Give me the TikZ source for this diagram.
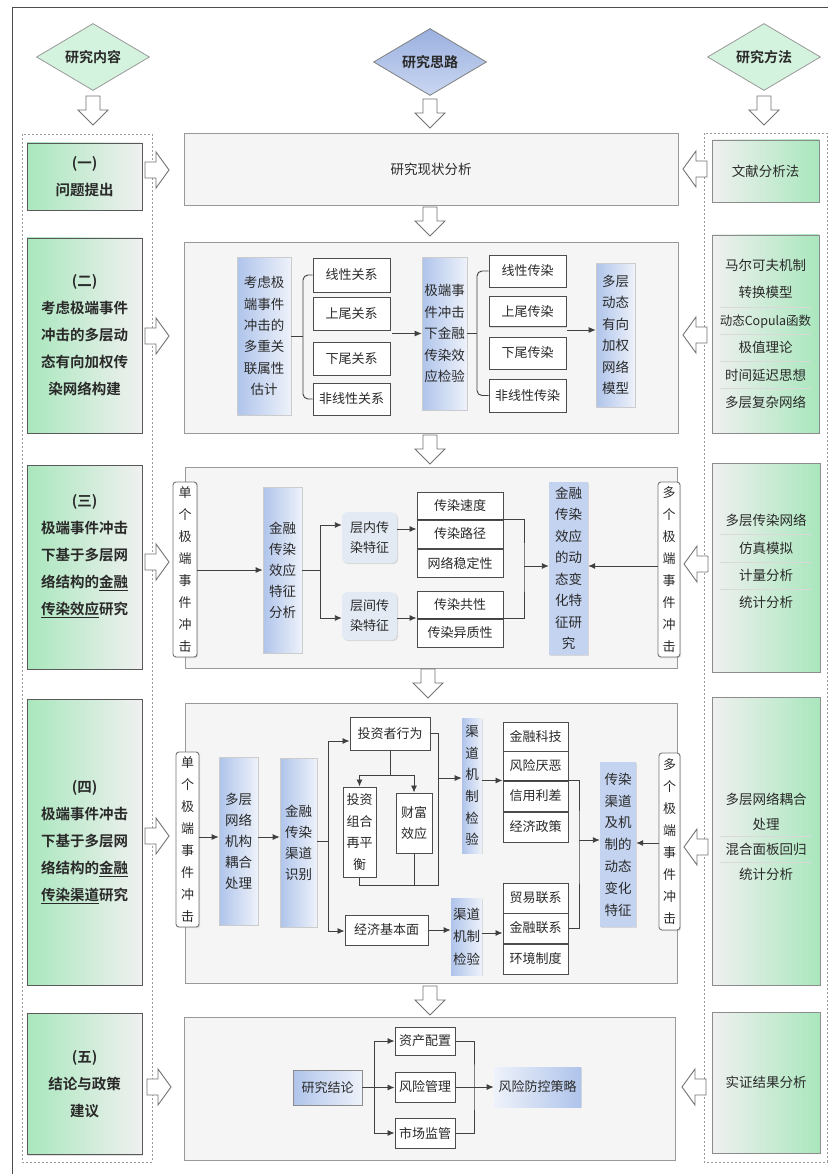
\documentclass[tikz,border=0pt]{standalone}
\usepackage{fontspec}
\setmainfont{Noto Sans CJK SC}[BoldFont={Noto Sans CJK SC Bold}]
\usetikzlibrary{shapes.geometric,shadows,arrows.meta}
\definecolor{grn}{HTML}{A9E7BD}
\definecolor{lgr}{HTML}{F0F0F0}
\definecolor{blu}{HTML}{AFC4EB}
\definecolor{blul}{HTML}{EEF2FA}
\definecolor{nbl}{HTML}{E3EAF3}
\definecolor{txt}{HTML}{2A2A2A}
\definecolor{dtop}{HTML}{9AB0DF}
\definecolor{dbot}{HTML}{CAD7F1}
\tikzset{
  shd/.style={drop shadow={shadow xshift=1.2pt,shadow yshift=-1.2pt,opacity=0.25}},
  colL/.style={draw=black!65, line width=0.9pt, left color=grn, right color=lgr, shd, inner sep=0, align=center, text=txt, font=\bfseries\fontsize{14.5}{27}\selectfont},
  ltxt/.style={inner sep=0, align=center, text=txt, font=\bfseries\fontsize{14.5}{27}\selectfont},
  colR/.style={draw=black!45, line width=0.9pt, left color=lgr, right color=grn, shd, inner sep=0, align=center, text=txt, font=\fontsize{13.5}{27.4}\selectfont},
  rtxt/.style={inner sep=0, align=center, text=txt, font=\fontsize{13.5}{27.4}\selectfont},
  mainbox/.style={draw=black!40, line width=0.8pt, fill=black!4, shd, inner sep=0},
  obox/.style={draw=black!70, line width=1pt, fill=white, inner sep=0, text=txt, font=\fontsize{13}{16}\selectfont, shd},
  bbox/.style={draw=black!20, line width=0.6pt, left color=blu, right color=blul, inner sep=0, align=center, text=txt, font=\fontsize{13.5}{21.5}\selectfont, shd},
  fbox/.style={draw=none, fill=blu!75!white, inner sep=0, align=center, text=txt, font=\fontsize{13.5}{21.8}\selectfont, shd},
  vbox/.style={draw=black!55, line width=0.9pt, rounded corners=3, fill=white, inner sep=0, align=center, text=txt, font=\fontsize{13}{21.9}\selectfont, shd},
  nbox/.style={draw=none, rounded corners=5, fill=nbl, inner sep=0, align=center, text=txt, font=\fontsize{13}{20}\selectfont, shd},
  conn/.style={draw=black!75, line width=0.9pt},
  arr/.style={conn, -{Latex[length=7pt,width=6pt]}},
  harrow/.style={draw=black!55, fill=white, line width=0.9pt},
  sepl/.style={draw=black!15, line width=0.6pt},
  colframe/.style={draw=black!40, line width=0.9pt, dash pattern=on 2pt off 2pt},
  dia/.style={diamond, aspect=1.7, line width=0.8pt, minimum width=113, minimum height=67, inner sep=0, text=txt, font=\bfseries\fontsize{14}{16}\selectfont},
  hdn/.pic={\path[harrow] (-7,0) -- (7,0) -- (7,14) -- (15,14) -- (0,29) -- (-15,14) -- (-7,14) -- cycle;},
  hrt/.pic={\path[harrow] (0,-8) -- (11,-8) -- (11,-18) -- (24,0) -- (11,18) -- (11,8) -- (0,8) -- cycle;},
  hlt/.pic={\path[harrow] (0,-8) -- (-11,-8) -- (-11,-18) -- (-24,0) -- (-11,18) -- (-11,8) -- (0,8) -- cycle;}
}
\begin{document}
\begin{tikzpicture}[x=1pt,y=-1pt]
\useasboundingbox[fill=white] (0,0) rectangle (828,1174);
\draw[black!70, line width=1pt] (12,1174) -- (12,8) -- (828,8);
% dashed columns
\draw[colframe] (22,134) rectangle (152,1162);
\draw[colframe] (704,133) rectangle (827,1162);
% diamonds
\node[dia, draw=black!40, fill=grn!50!white] (dC) at (93,57) {研究内容};
\node[dia, draw=black!50, top color=dtop, bottom color=dbot] (dT) at (430,62) {研究思路};
\node[dia, draw=black!40, fill=grn!50!white] (dM) at (764,57) {研究方法};
\pic at (93,96) {hdn};
\pic at (430,99) {hdn};
\pic at (764,96) {hdn};
% left column
\node[colL, minimum width=115, minimum height=67] (L1) at (84.5,176.5) {(一)\\问题提出};
\node[colL, minimum width=115, minimum height=195] (L2) at (84.5,335.5) {(二)\\考虑极端事件\\冲击的多层动\\态有向加权传\\染网络构建};
\node[colL, minimum width=115, minimum height=204] (L3) at (84.5,567) {};
\node[ltxt] (L3t) at (84.5,556) {(三)\\极端事件冲击\\下基于多层网\\络结构的\underline{金融}\\\underline{传染效应}研究};
\node[colL, minimum width=115, minimum height=286] (L4) at (84.5,842) {(四)\\极端事件冲击\\下基于多层网\\络结构的\underline{金融}\\\underline{传染渠道}研究};
\node[colL, minimum width=115, minimum height=141] (L5) at (84.5,1084) {(五)\\结论与政策\\建议};
% right column
\node[colR, minimum width=107, minimum height=62] (M1) at (765.5,171) {文献分析法};
\node[colR, minimum width=107, minimum height=198] (M2) at (765.5,334) {马尔可夫机制\\转换模型\\{\fontsize{12.5}{27.4}\selectfont 动态Copula函数}\\极值理论\\时间延迟思想\\多层复杂网络};
\draw[sepl] (720,307) -- (811,307);
\draw[sepl] (720,334) -- (811,334);
\draw[sepl] (720,361) -- (811,361);
\draw[sepl] (720,388) -- (811,388);
\node[colR, minimum width=108, minimum height=209] (M3) at (766,567.5) {};
\node[rtxt] (M3t) at (766,561.5) {多层传染网络\\仿真模拟\\计量分析\\统计分析};
\draw[sepl] (720,534) -- (812,534);
\draw[sepl] (720,562) -- (812,562);
\draw[sepl] (720,589) -- (812,589);
\node[colR, minimum width=108, minimum height=288] (M4) at (766,841) {};
\node[rtxt, font=\fontsize{13.5}{25}\selectfont] (M4t) at (766,837) {多层网络耦合\\处理\\混合面板回归\\统计分析};
\draw[sepl] (720,836) -- (812,836);
\draw[sepl] (720,862) -- (812,862);
\node[colR, minimum width=108, minimum height=141] (M5) at (766,1082.5) {实证结果分析};
% main boxes
\node[mainbox, minimum width=494, minimum height=72, text=txt, font=\fontsize{13.5}{16}\selectfont] (B1) at (431,169) {研究现状分析};
\node[mainbox, minimum width=494, minimum height=191] (B2) at (431,337.5) {};
\node[mainbox, minimum width=492, minimum height=201] (B3) at (431,567.5) {};
\node[mainbox, minimum width=492, minimum height=280] (B4) at (431,843) {};
\node[mainbox, minimum width=491, minimum height=143] (B5) at (429.5,1088.5) {};
% hollow arrows
\pic at (430,207) {hdn};
\pic at (430,435) {hdn};
\pic at (428,669) {hdn};
\pic at (430,986) {hdn};
\pic at (145,170) {hrt};
\pic at (145,336) {hrt};
\pic at (145,562) {hrt};
\pic at (145,836) {hrt};
\pic at (147,1087) {hrt};
\pic at (707,169) {hlt};
\pic at (707,335) {hlt};
\pic at (708,564) {hlt};
\pic at (708,847) {hlt};
\pic at (706,1087) {hlt};
% ===== section 2
\node[bbox, minimum width=54, minimum height=158, font=\fontsize{13.5}{21.3}\selectfont] (a2) at (264,336) {考虑极\\端事件\\冲击的\\多重关\\联属性\\估计};
\node[obox, minimum width=77, minimum height=34] (r1) at (351.5,275) {线性关系};
\node[obox, minimum width=77, minimum height=33] (r2) at (351.5,313.5) {上尾关系};
\node[obox, minimum width=77, minimum height=33] (r3) at (351.5,358.5) {下尾关系};
\node[obox, minimum width=77, minimum height=32] (r4) at (351.5,399) {非线性关系};
\node[bbox, minimum width=45, minimum height=153] (a3) at (444.5,333.5) {极端事\\件冲击\\下金融\\传染效\\应检验};
\node[obox, minimum width=77, minimum height=32] (c1) at (527.5,271) {线性传染};
\node[obox, minimum width=77, minimum height=30] (c2) at (527.5,311.5) {上尾传染};
\node[obox, minimum width=77, minimum height=32] (c3) at (527.5,353) {下尾传染};
\node[obox, minimum width=77, minimum height=33] (c4) at (527.5,395.5) {非线性传染};
\node[bbox, minimum width=39, minimum height=144] (a4) at (615.5,335) {多层\\动态\\有向\\加权\\网络\\模型};
\coordinate (b2a) at (303,336);
\draw[conn] (a2.east) -- (b2a);
\draw[conn, rounded corners=5] (r1.west) -| (b2a) |- (r4.west);
\coordinate (x2) at (392,333.5);
\draw[arr] (x2) -- (a3.west);
\coordinate (b2b) at (477,333.5);
\draw[conn] (a3.east) -- (b2b);
\draw[conn, rounded corners=5] (c1.west) -| (b2b) |- (c4.west);
\coordinate (x3) at (567,330);
\draw[arr] (x3) -- (a4.west |- x3);
% ===== section 3
\node[vbox, minimum width=24, minimum height=175] (s3) at (185,569.5) {单\\个\\极\\端\\事\\件\\冲\\击};
\node[bbox, minimum width=39, minimum height=166, font=\fontsize{13.5}{21}\selectfont] (b3) at (282.5,570) {金融\\传染\\效应\\特征\\分析};
\node[nbox, minimum width=55, minimum height=51] (n1) at (369.5,537.5) {层内传\\染特征};
\node[nbox, minimum width=55, minimum height=48] (n2) at (369.5,616) {层间传\\染特征};
\node[obox, minimum width=86, minimum height=28] (f1) at (460,506) {传染速度};
\node[obox, minimum width=86, minimum height=28] (f2) at (460,534) {传染路径};
\node[obox, minimum width=86, minimum height=28] (f3) at (460,563) {网络稳定性};
\node[obox, minimum width=86, minimum height=28] (f4) at (460,605) {传染共性};
\node[obox, minimum width=86, minimum height=28] (f5) at (460,633) {传染异质性};
\node[fbox, minimum width=39, minimum height=173, font=\fontsize{13.5}{21.5}\selectfont] (g3) at (568.5,568.5) {金融\\传染\\效应\\的动\\态变\\化特\\征研\\究};
\node[vbox, minimum width=22, minimum height=175] (m3) at (669,569.5) {多\\个\\极\\端\\事\\件\\冲\\击};
\draw[arr] (s3.east |- 0,570) -- (b3.west |- 0,570);
\coordinate (br3) at (320,570);
\draw[conn] (b3.east |- br3) -- (br3);
\draw[arr] (br3) |- (n1.west |- 0,525);
\draw[arr] (br3) |- (n2.west |- 0,618);
\draw[arr] (n1.east |- 0,529) -- (f2.west |- 0,529);
\draw[arr] (n2.east |- 0,618) -- (f4.west |- 0,618);
\coordinate (mg3) at (524,566);
\draw[conn] (f2.north west) -- (f2.north east) -| (mg3) |- (f5.north east) -- (f5.north west);
\draw[arr] (mg3) -- (g3.west |- mg3);
\draw[arr] (m3.west |- 0,566) -- (g3.east |- 0,566);
% ===== section 4
\node[vbox, minimum width=23, minimum height=175] (s4) at (187.5,839.5) {单\\个\\极\\端\\事\\件\\冲\\击};
\node[bbox, minimum width=39, minimum height=168, font=\fontsize{13.5}{21}\selectfont] (p1) at (238.5,841) {多层\\网络\\机构\\耦合\\处理};
\node[bbox, minimum width=37, minimum height=169, font=\fontsize{13.5}{21}\selectfont] (p2) at (298.5,842.5) {金融\\传染\\渠道\\识别};
\node[obox, minimum width=80, minimum height=33] (q1) at (390,733.5) {投资者行为};
\node[obox, minimum width=33, minimum height=90, align=center, font=\fontsize{13}{21.5}\selectfont] (q2) at (359.5,832) {投资\\组合\\再平\\衡};
\node[obox, minimum width=36, minimum height=60, align=center, font=\fontsize{13}{21.5}\selectfont] (q3) at (414,823) {财富\\效应};
\node[bbox, draw=none, minimum width=20, minimum height=135, font=\fontsize{13.5}{21.6}\selectfont] (k1) at (472,785.5) {渠\\道\\机\\制\\检\\验};
\node[obox, minimum width=65, minimum height=29] (o1) at (535.5,736.5) {金融科技};
\node[obox, minimum width=65, minimum height=30] (o2) at (535.5,766) {风险厌恶};
\node[obox, minimum width=65, minimum height=30] (o3) at (535.5,796) {信用利差};
\node[obox, minimum width=65, minimum height=30] (o4) at (535.5,827) {经济政策};
\node[fbox, minimum width=36, minimum height=165] (t4) at (618,844.5) {传染\\渠道\\及机\\制的\\动态\\变化\\特征};
\node[vbox, minimum width=21, minimum height=177] (m4) at (669.5,841.5) {多\\个\\极\\端\\事\\件\\冲\\击};
\node[obox, minimum width=83, minimum height=30] (q6) at (386.5,930) {经济基本面};
\node[bbox, draw=none, minimum width=31, minimum height=77, font=\fontsize{13.5}{22.5}\selectfont] (k2) at (466.5,936.5) {渠道\\机制\\检验};
\node[obox, minimum width=65, minimum height=30] (o5) at (535.5,898) {贸易联系};
\node[obox, minimum width=65, minimum height=30] (o6) at (535.5,928) {金融联系};
\node[obox, minimum width=65, minimum height=30] (o7) at (535.5,959) {环境制度};
\draw[arr] (s4.east |- 0,837) -- (p1.west |- 0,837);
\draw[arr] (p1.east |- 0,837) -- (p2.west |- 0,837);
\coordinate (br4) at (328,841);
\draw[conn] (p2.east |- br4) -- (br4);
\draw[arr] (br4) |- (q1.west |- 0,741);
\draw[arr] (br4) |- (q6.west |- 0,931);
\coordinate (j4) at (390,775);
\draw[conn] (q1.south) -- (j4);
\draw[arr] (j4) -| (q2.north);
\draw[arr] (j4) -| (q3.north);
\draw[conn] (q1.east) -| (438,885) -| (q2.south);
\draw[conn] (q3.south) -- (q3.south |- 0,885);
\coordinate (rr4) at (438,778);
\draw[arr] (rr4) -- (k1.west |- rr4);
\draw[arr] (k1.east |- o3.north west) -- (o3.north west);
\coordinate (mg4) at (579,840);
\draw[conn] (o3.north west) -| (mg4) |- (o6.east);
\draw[arr] (mg4) -- (t4.west |- mg4);
\draw[arr] (m4.west |- 0,843) -- (t4.east |- 0,843);
\draw[arr] (q6.east) -- (k2.west |- q6.east);
\draw[arr] (k2.east |- 0,933) -- (o6.west |- 0,933);
% ===== section 5
\node[bbox, draw=black!45, minimum width=69, minimum height=35, font=\fontsize{13}{16}\selectfont] (r5) at (327.5,1087.5) {研究结论};
\node[obox, minimum width=60, minimum height=28] (u1) at (425,1041) {资产配置};
\node[obox, minimum width=60, minimum height=30] (u2) at (425,1087) {风险管理};
\node[obox, minimum width=60, minimum height=30] (u3) at (425,1133) {市场监管};
\node[bbox, draw=none, left color=blul, right color=blu, minimum width=87, minimum height=40, font=\fontsize{13}{16}\selectfont] (v5) at (537.5,1087) {风险防控策略};
\coordinate (br5) at (374,1087.5);
\draw[conn] (r5.east) -- (br5);
\draw[arr] (br5) |- (u1.west);
\draw[arr] (br5) |- (u3.west);
\draw[arr] (br5) -- (u2.west |- br5);
\draw[conn] (u1.east) -| (474,1087) |- (u3.east);
\draw[arr] (u2.east) -- (v5.west |- u2.east);
\end{tikzpicture}
\end{document}
